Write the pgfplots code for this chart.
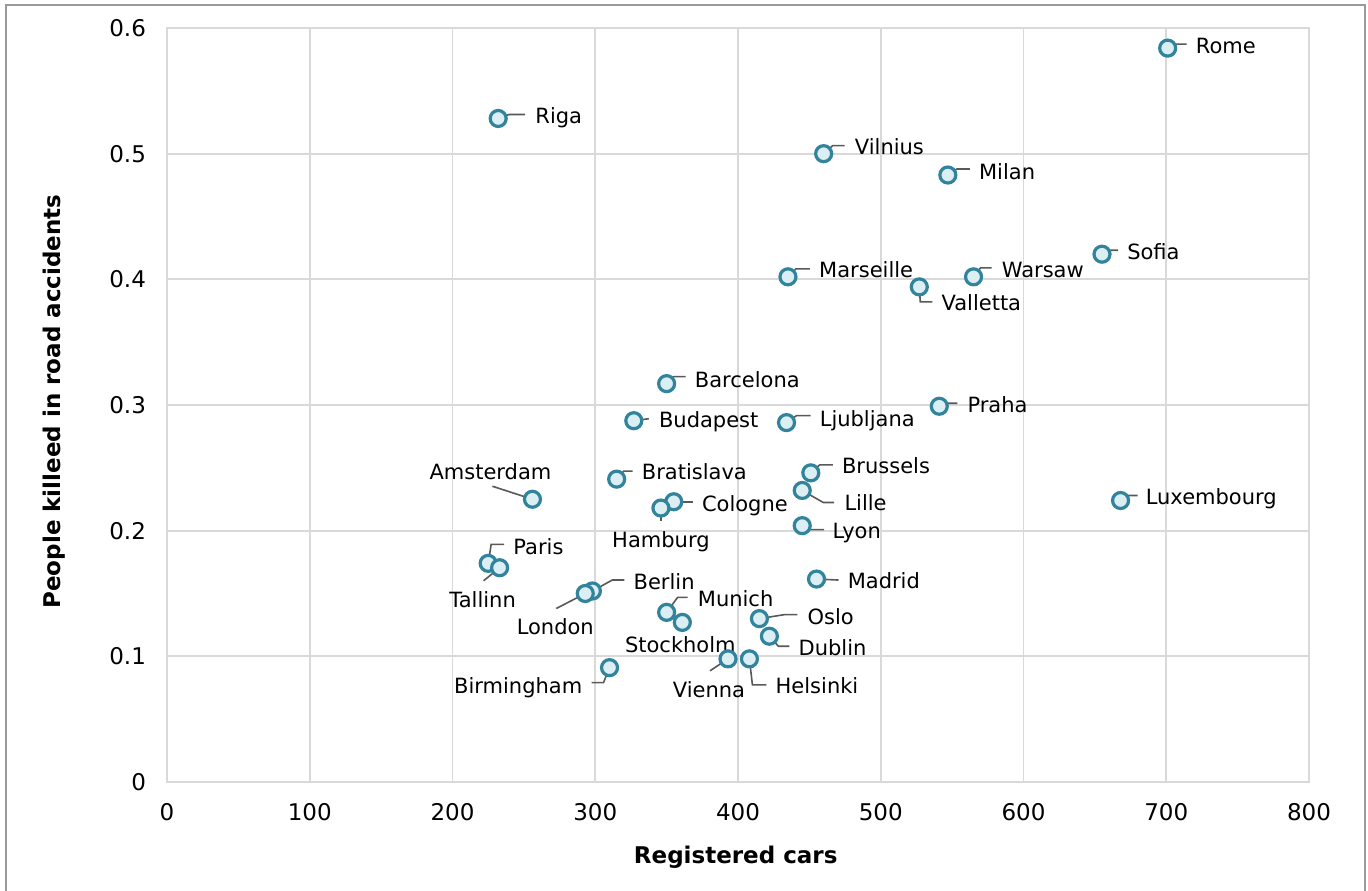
\documentclass[border=0pt]{standalone}
\usepackage{pgfplots}
\pgfplotsset{compat=1.18}
\usepackage{fontspec}
\setmainfont{DejaVu Sans}
\definecolor{teal}{HTML}{31849B}
\definecolor{lightf}{HTML}{DAEEF3}
\definecolor{leadc}{HTML}{595959}
\definecolor{gridc}{HTML}{D9D9D9}
\definecolor{framec}{HTML}{9A9A9A}
\tikzset{leader/.style={draw=leadc,line width=1.2pt},
  lab/.style={font=\fontsize{15.75}{18}\selectfont,text=black,inner sep=0pt,text height=0.73em,text depth=0pt,yshift=-2.2pt}}
% two-segment leader: x,y, a,b, c,d (px offsets, y downward)
\newcommand{\Ld}[6]{\draw[leader] (axis cs:#1,#2) -- ([shift={({#3*0.75pt},{-(#4)*0.75pt})}]axis cs:#1,#2) -- ([shift={({#5*0.75pt},{-(#6)*0.75pt})}]axis cs:#1,#2);}
\newcommand{\Ls}[4]{\draw[leader] (axis cs:#1,#2) -- ([shift={({#3*0.75pt},{-(#4)*0.75pt})}]axis cs:#1,#2);}
\newcommand{\Lt}[6]{\node[lab,anchor=#5] at ([shift={({#3*0.75pt},{-(#4)*0.75pt})}]axis cs:#1,#2) {#6};}
\pgfplotstableread{
x y
701 0.584
232 0.528
460 0.500
547 0.483
655 0.420
435 0.402
565 0.402
527 0.394
350 0.317
541 0.299
327 0.2875
434 0.286
451 0.246
315 0.241
445 0.232
256 0.225
668 0.224
355 0.223
346 0.218
445 0.204
225 0.174
233 0.1705
455 0.1615
298 0.152
293 0.150
350 0.135
361 0.127
415 0.130
422 0.116
393 0.098
408 0.098
310 0.091
}\cities
\begin{document}
\begin{tikzpicture}
\useasboundingbox (0,0) rectangle (1026pt,667.5pt);
\fill[white] (0,0) rectangle (1026pt,667.5pt);
\draw[framec,line width=1.1pt] (4.5pt,-10pt) -- (4.5pt,663.75pt) -- (1023.75pt,663.75pt) -- (1023.75pt,-10pt);
\begin{axis}[
  at={(125.25pt,81pt)}, anchor=south west,
  scale only axis, width=856.5pt, height=565.5pt,
  xmin=0, xmax=800, ymin=0, ymax=0.6,
  xtick={0,100,200,300,400,500,600,700,800},
  ytick={0,0.1,0.2,0.3,0.4,0.5,0.6},
  grid=major, major grid style={color=gridc, line width=1.4pt},
  axis line style={color=gridc, line width=1.4pt},
  major tick length=0pt,
  tick label style={font=\fontsize{17.25}{20}\selectfont, text=black},
  /pgf/number format/assume math mode=true,
  xticklabel style={yshift=-12.5pt},
  yticklabel style={xshift=-12.3pt},
  xlabel={Registered cars},
  ylabel={People killeed in road accidents},
  label style={font=\bfseries\fontsize{17.25}{20}\selectfont},
  xlabel style={at={(axis description cs:0.498,-0.0995)},anchor=center},
  ylabel style={at={(axis description cs:-0.0990,0.5046)},anchor=center},
  clip=false,
]
\addplot[only marks, mark=*, mark size=6pt, mark options={draw=teal, fill=lightf, line width=2.4pt}] table[x=x,y=y] {\cities};
% leaders
\Ld{701}{0.584}{8}{-4}{19}{-4}
\Ld{232}{0.528}{11}{-4}{27}{-4}
\Ld{460}{0.500}{9}{-8}{21}{-8}
\Ld{547}{0.483}{9}{-6}{22}{-6}
\Ld{655}{0.420}{7}{-4}{16}{-4}
\Ld{435}{0.402}{8}{-8}{22}{-8}
\Ld{565}{0.402}{7}{-9}{18}{-9}
\Ld{527}{0.394}{1}{15}{13}{15}
\Ld{350}{0.317}{7}{-7}{19}{-7}
\Ld{541}{0.299}{8}{-3}{18}{-3}
\Ls{327}{0.2875}{15}{-2}
\Ld{434}{0.286}{10}{-7}{24}{-7}
\Ld{451}{0.246}{9}{-8}{22}{-8}
\Ld{315}{0.241}{7}{-8}{16}{-8}
\Ld{445}{0.232}{21}{12}{32}{12}
\Ls{256}{0.225}{-40}{-13}
\Ld{668}{0.224}{7}{-5}{17}{-5}
\Ls{355}{0.223}{19}{0}
\Ls{346}{0.218}{0}{13}
\Ld{445}{0.204}{6}{4}{22}{4}
\Ld{225}{0.174}{3}{-19}{16}{-19}
\Ls{233}{0.1705}{-16}{13}
\Ls{455}{0.1615}{22}{1}
\Ld{298}{0.152}{20}{-11}{32}{-11}
\Ls{293}{0.150}{-29}{15}
\Ld{350}{0.135}{11}{-15}{21}{-15}
\Ld{415}{0.130}{25}{-4}{38}{-4}
\Ld{422}{0.116}{9}{10}{20}{10}
\Ls{393}{0.098}{-18}{12}
\Ld{408}{0.098}{3}{26}{17}{26}
\Ld{310}{0.091}{-6}{15}{-18}{15}
% labels
\Lt{701}{0.584}{28}{-2}{west}{Rome}
\Lt{232}{0.528}{37}{-3}{west}{Riga}
\Lt{460}{0.500}{31}{-7}{west}{Vilnius}
\Lt{547}{0.483}{31}{-3}{west}{Milan}
\Lt{655}{0.420}{25}{-3}{west}{Sofia}
\Lt{435}{0.402}{31}{-7}{west}{Marseille}
\Lt{565}{0.402}{28}{-7}{west}{Warsaw}
\Lt{527}{0.394}{22}{16}{west}{Valletta}
\Lt{350}{0.317}{28}{-4}{west}{Barcelona}
\Lt{541}{0.299}{28}{-2}{west}{Praha}
\Lt{327}{0.2875}{25}{-1}{west}{Budapest}
\Lt{434}{0.286}{33}{-4}{west}{Ljubljana}
\Lt{451}{0.246}{31}{-7}{west}{Brussels}
\Lt{315}{0.241}{25}{-7}{west}{Bratislava}
\Lt{445}{0.232}{42}{12}{west}{Lille}
\Lt{256}{0.225}{-42}{-28}{center}{Amsterdam}
\Lt{668}{0.224}{25}{-4}{west}{Luxembourg}
\Lt{355}{0.223}{28}{2}{west}{Cologne}
\Lt{346}{0.218}{0}{32}{center}{Hamburg}
\Lt{445}{0.204}{30}{5}{west}{Lyon}
\Lt{225}{0.174}{25}{-17}{west}{Paris}
\Lt{233}{0.1705}{-17}{32}{center}{Tallinn}
\Lt{455}{0.1615}{31}{2}{west}{Madrid}
\Lt{298}{0.152}{41}{-9}{west}{Berlin}
\Lt{293}{0.150}{-30}{33}{center}{London}
\Lt{350}{0.135}{31}{-14}{west}{Munich}
\Lt{361}{0.127}{-2}{22}{center}{Stockholm}
\Lt{415}{0.130}{48}{-2}{west}{Oslo}
\Lt{422}{0.116}{29}{11}{west}{Dublin}
\Lt{393}{0.098}{-19}{31}{center}{Vienna}
\Lt{408}{0.098}{26}{27}{west}{Helsinki}
\Lt{310}{0.091}{-27}{18}{east}{Birmingham}
\end{axis}
\end{tikzpicture}
\end{document}
